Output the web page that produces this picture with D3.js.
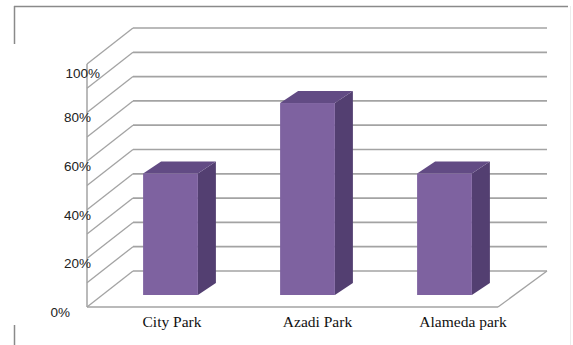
<!DOCTYPE html>
<html>
<head>
<meta charset="utf-8">
<script src="https://cdn.jsdelivr.net/npm/d3@7"></script>
<style>
  html, body { margin: 0; padding: 0; background: #fff; }
  svg { display: block; }
</style>
</head>
<body>
<svg id="chart" width="573" height="345"></svg>
<script>
// ---- data ----
const categories = ["City Park", "Azadi Park", "Alameda park"];
const values = [50, 79, 50];
const tickValues = [0, 20, 40, 60, 80, 100];
const gridValues = [0, 10, 20, 30, 40, 50, 60, 70, 80, 90, 100];
const tickLabels = ["0%", "20%", "40%", "60%", "80%", "100%"];

// ---- layout ----
const svg = d3.select("#chart");
const x0 = 87, floorY = 307, wallW = 411;
const depthDx = 46, depthDy = -36;     // wall depth
const barOffDx = 15, barOffDy = -12;   // bar front plane offset
const barDx = 18, barDy = -12;         // bar depth
const gridColor = "#a3a3a3";

const y = d3.scaleLinear().domain([0, 100]).range([floorY, floorY - 243]);
const x = d3.scaleBand().domain(categories).range([0, wallW]).paddingInner(0.6).paddingOuter(0.3);
const labelX = d3.scalePoint().domain(categories).range([172, 463]);

// outer frame
svg.append("line").attr("x1", 14).attr("x2", 568).attr("y1", 6.5).attr("y2", 6.5)
  .attr("stroke", "#8a8a8a").attr("stroke-width", 1.5);
svg.append("line").attr("x1", 14.5).attr("x2", 14.5).attr("y1", 6).attr("y2", 44)
  .attr("stroke", "#8a8a8a").attr("stroke-width", 1.5);
svg.append("line").attr("x1", 14.5).attr("x2", 14.5).attr("y1", 325).attr("y2", 345)
  .attr("stroke", "#8a8a8a").attr("stroke-width", 1.5);
svg.append("line").attr("x1", 570.5).attr("x2", 570.5).attr("y1", 6).attr("y2", 345)
  .attr("stroke", "#ececec").attr("stroke-width", 1);

const g = svg.append("g");

// back wall gridlines
g.selectAll("line.back").data(gridValues).join("line")
  .attr("class", "back")
  .attr("x1", x0 + depthDx).attr("x2", x0 + depthDx + wallW + 3)
  .attr("y1", d => y(d) + depthDy).attr("y2", d => y(d) + depthDy)
  .attr("stroke", gridColor).attr("stroke-width", 1.7);

// left wall diagonals
g.selectAll("line.side").data(gridValues).join("line")
  .attr("class", "side")
  .attr("x1", x0).attr("x2", x0 + depthDx)
  .attr("y1", d => y(d)).attr("y2", d => y(d) + depthDy)
  .attr("stroke", gridColor).attr("stroke-width", 1.3);

// left wall front vertical
g.append("line").attr("x1", x0).attr("x2", x0).attr("y1", y(0)).attr("y2", y(100))
  .attr("stroke", gridColor).attr("stroke-width", 1.5);

// floor front edge and right diagonal
g.append("line").attr("x1", x0).attr("x2", x0 + wallW).attr("y1", floorY).attr("y2", floorY)
  .attr("stroke", gridColor).attr("stroke-width", 1.7);
g.append("line").attr("x1", x0 + wallW).attr("x2", x0 + wallW + depthDx + 3)
  .attr("y1", floorY).attr("y2", floorY + depthDy)
  .attr("stroke", gridColor).attr("stroke-width", 1.3);

// bars
const data = categories.map((c, i) => ({ c, v: values[i] }));
const bars = g.selectAll("g.bar").data(data).join("g").attr("class", "bar");
const bx = d => x0 + barOffDx + x(d.c);
const bw = x.bandwidth();
const by0 = y(0) + barOffDy;
const byTop = d => y(d.v) + barOffDy;

// side face
bars.append("path")
  .attr("d", d => {
    const r = bx(d) + bw, t = byTop(d);
    return `M${r},${t} L${r + barDx},${t + barDy} L${r + barDx},${by0 + barDy} L${r},${by0} Z`;
  })
  .attr("fill", "#533f71");
// top face
bars.append("path")
  .attr("d", d => {
    const l = bx(d), r = l + bw, t = byTop(d);
    return `M${l},${t} L${l + barDx},${t + barDy} L${r + barDx},${t + barDy} L${r},${t} Z`;
  })
  .attr("fill", "#624b84");
// front face
bars.append("rect")
  .attr("x", d => bx(d)).attr("y", d => byTop(d))
  .attr("width", bw).attr("height", d => by0 - byTop(d))
  .attr("fill", "#7e62a0");

// y tick labels
svg.selectAll("text.tick").data(tickValues).join("text")
  .attr("class", "tick")
  .attr("x", d => d === 0 ? 70 : (d === 100 ? 100 : 91))
  .attr("y", d => y(d) + (d === 100 ? 9 : 5))
  .attr("dy", "0.35em")
  .attr("text-anchor", "end")
  .attr("font-family", "'Liberation Sans', Arial, sans-serif")
  .attr("font-size", 13.5)
  .attr("fill", "#222")
  .text((d, i) => tickLabels[i]);

// category labels
svg.selectAll("text.cat").data(categories).join("text")
  .attr("class", "cat")
  .attr("x", d => labelX(d))
  .attr("y", 327)
  .attr("text-anchor", "middle")
  .attr("font-family", "'Liberation Serif', 'Times New Roman', serif")
  .attr("font-size", 15.5)
  .attr("fill", "#111")
  .text(d => d);
</script>
</body>
</html>
